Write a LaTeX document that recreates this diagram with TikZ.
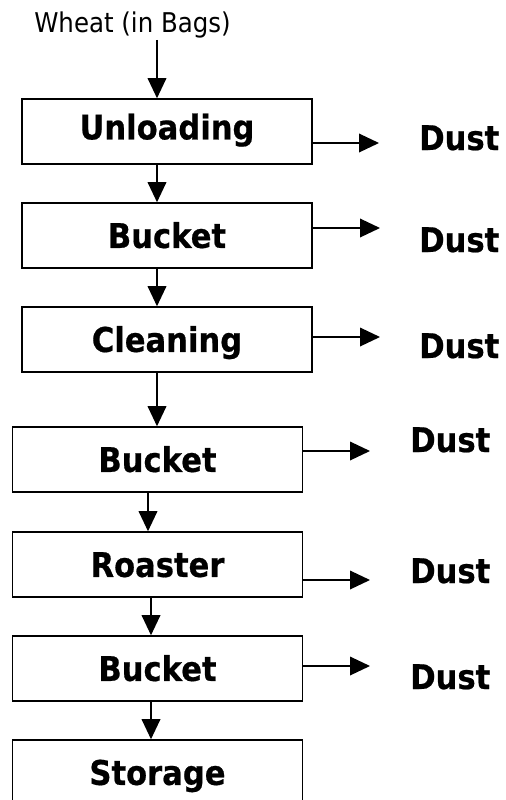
\documentclass[tikz,border=0pt]{standalone}
\usepackage{fontspec}
\usetikzlibrary{arrows.meta}
\newfontfamily\cfont{DejaVu Sans}[FakeStretch=0.9,BoldFeatures={FakeBold=0.6}]
\begin{document}
\begin{tikzpicture}[x=0.75pt,y=-0.75pt,
  procbox/.style={draw=black,line width=1.2pt,rectangle,minimum width=217.5pt,minimum height=48.75pt,inner sep=0pt,
    font=\cfont\bfseries\fontsize{25.5}{29}\selectfont,text height=18.6pt,text depth=0pt},
  arr/.style={line width=1pt,-{Triangle[length=15pt,width=14pt]}},
  dusttxt/.style={anchor=base west,inner sep=0pt,font=\cfont\bfseries\fontsize{25.5}{29}\selectfont}]
\useasboundingbox (0,0) rectangle (506,800);
\clip (0,0) rectangle (506,800);
% input label
\node[anchor=base,inner sep=0pt,font=\cfont\fontsize{20.4}{24}\selectfont] (w) at (132.5,32) {Wheat (in Bags)};
% process boxes
\node[procbox,text depth=6.75pt] (u)  at (167,131.5) {Unloading};
\node[procbox] (b1) at (167,235.5) {Bucket};
\node[procbox] (c)  at (167,339.5) {Cleaning};
\node[procbox] (b2) at (157.5,459.5) {Bucket};
\node[procbox] (r)  at (157.5,564.5) {Roaster};
\node[procbox] (b3) at (157.5,668.5) {Bucket};
\node[procbox] (s)  at (157.5,772.5) {Storage};
% x positions of vertical flows
\coordinate (x1) at (157,0);
\coordinate (x2) at (148,0);
\coordinate (x3) at (151,0);
% vertical flows
\draw[arr] ([yshift=-1.5pt]w.south -| x1) -- (u.north -| x1);
\draw[arr] (u.south -| x1) -- (b1.north -| x1);
\draw[arr] (b1.south -| x1) -- (c.north -| x1);
\draw[arr] (c.south -| x1) -- (b2.north -| x1);
\draw[arr] (b2.south -| x2) -- (r.north -| x2);
\draw[arr] (r.south -| x3) -- (b3.north -| x3);
\draw[arr] (b3.south -| x3) -- (s.north -| x3);
% dust outputs
\node[dusttxt] (d1) at (419,150) {Dust};
\node[dusttxt] (d2) at (419,252) {Dust};
\node[dusttxt] (d3) at (419,358) {Dust};
\node[dusttxt] (d4) at (410,452) {Dust};
\node[dusttxt] (d5) at (410,583) {Dust};
\node[dusttxt] (d6) at (410,689) {Dust};
\coordinate (e1) at (379,143);
\coordinate (e2) at (380,228);
\coordinate (e3) at (380,337);
\coordinate (e4) at (370,451);
\coordinate (e5) at (370,580);
\coordinate (e6) at (370,666);
\draw[arr] (u.east |- e1) -- (e1);
\draw[arr] (b1.east |- e2) -- (e2);
\draw[arr] (c.east |- e3) -- (e3);
\draw[arr] (b2.east |- e4) -- (e4);
\draw[arr] (r.east |- e5) -- (e5);
\draw[arr] (b3.east |- e6) -- (e6);
\end{tikzpicture}
\end{document}
